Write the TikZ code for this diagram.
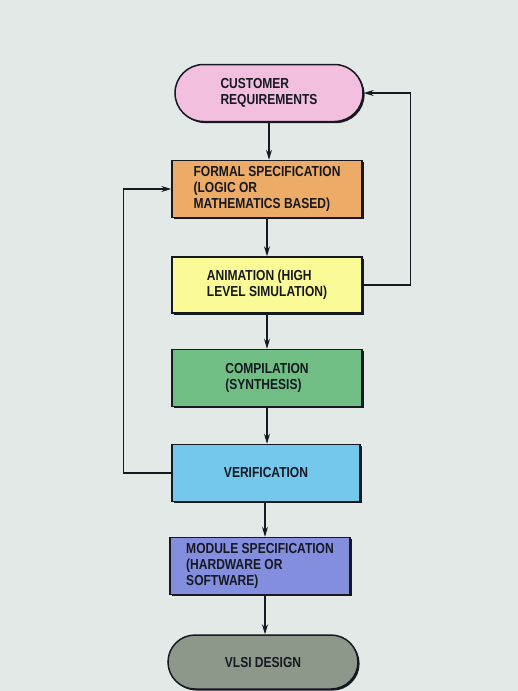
\documentclass[tikz,border=0pt]{standalone}
\usepackage{fontspec}
\setmainfont{Liberation Sans}[FakeStretch=0.83]
\usetikzlibrary{shapes.misc,shadows,arrows.meta}
\definecolor{bg}{RGB}{227,233,231}
\definecolor{cpink}{RGB}{242,192,222}
\definecolor{corange}{RGB}{236,172,104}
\definecolor{cyellow}{RGB}{250,250,150}
\definecolor{cgreen}{RGB}{112,190,132}
\definecolor{cblue}{RGB}{116,200,236}
\definecolor{cviolet}{RGB}{132,142,222}
\definecolor{cgray}{RGB}{142,152,138}
\definecolor{ink}{RGB}{22,24,34}
\tikzset{
  base/.style={draw=ink, line width=1.5pt, text=ink, font=\bfseries\fontsize{14.5}{15.8}\selectfont,
    align=left, inner sep=0pt,
    drop shadow={shadow xshift=1.6pt, shadow yshift=-1.6pt, fill=ink, opacity=1}},
  boxnode/.style={base, rectangle, minimum width=190pt, minimum height=57pt},
  termnode/.style={base, rounded rectangle, minimum width=188pt, minimum height=57pt},
  arr/.style={draw=ink, line width=1.1pt, -{Stealth[length=10pt,width=6pt]}}
}
\begin{document}
\begin{tikzpicture}[x=1pt,y=-1pt]
\fill[bg] (0,0) rectangle (518,691);
\useasboundingbox (0,0) rectangle (518,691);
\node[termnode, fill=cpink] (cr) at (269,93) {CUSTOMER\\REQUIREMENTS};
\node[boxnode, fill=corange] (fs) at (267,189) {FORMAL SPECIFICATION\\(LOGIC OR\\MATHEMATICS BASED)};
\node[boxnode, fill=cyellow, minimum height=56pt] (an) at (267,285) {ANIMATION (HIGH\\LEVEL SIMULATION)};
\node[boxnode, fill=cgreen] (co) at (267,378) {COMPILATION\\(SYNTHESIS)};
\node[boxnode, fill=cblue, minimum width=188pt] (ve) at (266,473) {VERIFICATION};
\node[boxnode, fill=cviolet, minimum width=180pt] (ms) at (260,566) {MODULE SPECIFICATION\\(HARDWARE OR\\SOFTWARE)};
\node[termnode, fill=cgray, minimum width=190pt, minimum height=54pt] (vl) at (263,662) {VLSI DESIGN};
\draw[arr] (cr.south) -- (cr.south |- fs.north);
\draw[arr] (fs.south) -- (an.north);
\draw[arr] (an.south) -- (co.north);
\draw[arr] (co.south) -- (co.south |- ve.north);
\draw[arr] (ve.south -| 265,0) -- (ms.north -| 265,0);
\draw[arr] (ms.south -| 265,0) -- (vl.north -| 265,0);
\draw[arr] (an.east) -- ++(48,0) |- (cr.east);
\draw[arr] (ve.west) -- ++(-48,0) |- (fs.west);
\end{tikzpicture}
\end{document}
